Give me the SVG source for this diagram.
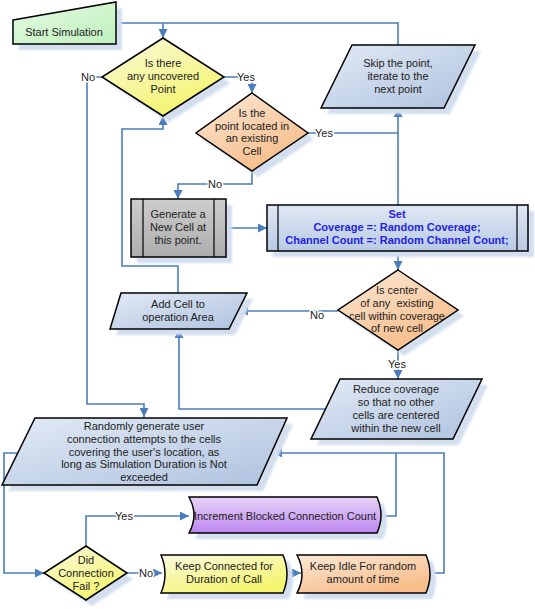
<svg xmlns="http://www.w3.org/2000/svg" xmlns:xlink="http://www.w3.org/1999/xlink" width="535" height="609" viewBox="0 0 535 609">
<style>
text{font-family:"Liberation Sans",Arial,sans-serif;font-size:11px;fill:#222;text-anchor:middle}
.shape{stroke:#000;stroke-width:1.5;stroke-linejoin:miter}
.shadow{fill:#d3deef;stroke:none}
.conn{fill:none;stroke:#4a7ebb;stroke-width:1.6}
.arr{marker-end:url(#ah)}
.lbl{stroke:#fff;stroke-width:3;paint-order:stroke;stroke-linejoin:round}
.set{fill:#1f1fe6;font-weight:bold}
.inner{stroke:#000;stroke-width:1.2;fill:none}
</style>
<defs>
<marker id="ah" viewBox="0 0 10 10" refX="10" refY="5" markerWidth="9" markerHeight="9" markerUnits="userSpaceOnUse" orient="auto">
<path d="M0,0 L10,5 L0,10 Z" fill="#4a7ebb"/>
</marker>
<filter id="blur" x="-10%" y="-10%" width="120%" height="120%"><feGaussianBlur stdDeviation="1"/></filter>
<linearGradient id="gBlue" x1="0" y1="0" x2="1" y2="1"><stop offset="0" stop-color="#e2eaf6"/><stop offset="1" stop-color="#aec2de"/></linearGradient>
<linearGradient id="gGreen" x1="0" y1="0" x2="1" y2="1"><stop offset="0" stop-color="#e4fbe2"/><stop offset="1" stop-color="#bff0bd"/></linearGradient>
<linearGradient id="gYellow" x1="0" y1="0" x2="0.6" y2="1"><stop offset="0" stop-color="#fafae0"/><stop offset="1" stop-color="#f4f46e"/></linearGradient>
<linearGradient id="gOrange" x1="0" y1="0" x2="0.6" y2="1"><stop offset="0" stop-color="#fce8d6"/><stop offset="1" stop-color="#f7bd8a"/></linearGradient>
<linearGradient id="gPurple" x1="0" y1="0" x2="0" y2="1"><stop offset="0" stop-color="#e8d4f8"/><stop offset="1" stop-color="#bd86f0"/></linearGradient>
<linearGradient id="gGray" x1="0" y1="0" x2="0" y2="1"><stop offset="0" stop-color="#cdcdcd"/><stop offset="1" stop-color="#adadad"/></linearGradient>
<linearGradient id="gSet" x1="0" y1="0" x2="0" y2="1"><stop offset="0" stop-color="#e0e8f4"/><stop offset="1" stop-color="#b8cae4"/></linearGradient>
</defs>

<g id="connectors">
<path class="conn" d="M116,23 H398 V45"/>
<path class="conn arr" d="M163,23 V38"/>
<path class="conn arr" d="M102,77 H87 V404 H144 V417"/>
<path class="conn arr" d="M224,77 H252 V93"/>
<path class="conn" d="M308,133 H398"/>
<path class="conn arr" d="M398,205 V108"/>
<path class="conn arr" d="M252,171 V184 H178 V199"/>
<path class="conn arr" d="M226,228 H267"/>
<path class="conn arr" d="M398,251 V270"/>
<path class="conn arr" d="M338,311 H239"/>
<path class="conn arr" d="M178,293 V266 H122 V129 H163 V116"/>
<path class="conn arr" d="M398,350 V379"/>
<path class="conn arr" d="M325,409 H179 V329"/>
<path class="conn" d="M382,516 H396 V453"/>
<path class="conn arr" d="M429,573 H444 V453 H273"/>
<path class="conn arr" d="M18,453 H4 V573 H44"/>
<path class="conn arr" d="M86,546 V516 H189"/>
<path class="conn arr" d="M127,573 H162"/>
<path class="conn arr" d="M287,573 H301"/>
<text class="lbl" x="88" y="81">No</text>
<text class="lbl" x="246" y="81">Yes</text>
<text class="lbl" x="324" y="137">Yes</text>
<text class="lbl" x="215" y="188">No</text>
<text class="lbl" x="317" y="319">No</text>
<text class="lbl" x="397" y="368">Yes</text>
<text class="lbl" x="124" y="520">Yes</text>
<text class="lbl" x="146" y="577">No</text>
</g>

<g id="start">
<polygon class="shadow" filter="url(#blur)" transform="translate(6,6)" points="13,20 116,2 116,44 13,44"/>
<polygon class="shape" fill="url(#gGreen)" points="13,20 116,2 116,44 13,44"/>
<text x="64" y="36">Start Simulation</text>
</g>

<g id="d1">
<polygon class="shadow" filter="url(#blur)" transform="translate(6,6)" points="163,38 224,77 163,116 102,77"/>
<polygon class="shape" fill="url(#gYellow)" points="163,38 224,77 163,116 102,77"/>
<text x="163" y="67">Is there</text>
<text x="163" y="80">any uncovered</text>
<text x="163" y="93">Point</text>
</g>

<g id="d2">
<polygon class="shadow" filter="url(#blur)" transform="translate(6,6)" points="252,93 308,133 252,171 196,133"/>
<polygon class="shape" fill="url(#gOrange)" points="252,93 308,133 252,171 196,133"/>
<text x="252" y="117">Is the</text>
<text x="252" y="130">point located in</text>
<text x="252" y="142">an existing</text>
<text x="252" y="155">Cell</text>
</g>

<g id="skip">
<polygon class="shadow" filter="url(#blur)" transform="translate(6,6)" points="352,45 475,45 444,108 321,108"/>
<polygon class="shape" fill="url(#gBlue)" points="352,45 475,45 444,108 321,108"/>
<text x="398" y="67">Skip the point,</text>
<text x="398" y="80">iterate to the</text>
<text x="398" y="93">next point</text>
</g>

<g id="generate">
<rect class="shadow" filter="url(#blur)" x="137" y="205" width="95" height="58"/>
<rect class="shape" fill="url(#gGray)" x="131" y="199" width="95" height="58"/>
<line class="inner" x1="143" y1="199" x2="143" y2="257"/>
<line class="inner" x1="214" y1="199" x2="214" y2="257"/>
<text x="178" y="218">Generate a</text>
<text x="178" y="231">New Cell at</text>
<text x="178" y="244">this point.</text>
</g>

<g id="set">
<rect class="shadow" filter="url(#blur)" x="273" y="211" width="261" height="46"/>
<rect class="shape" fill="url(#gSet)" x="267" y="205" width="261" height="46"/>
<line class="inner" x1="278" y1="205" x2="278" y2="251"/>
<line class="inner" x1="517" y1="205" x2="517" y2="251"/>
<text class="set" x="397" y="218">Set</text>
<text class="set" x="397" y="231">Coverage =: Random Coverage;</text>
<text class="set" x="397" y="244">Channel Count =: Random Channel Count;</text>
</g>

<g id="d3">
<polygon class="shadow" filter="url(#blur)" transform="translate(6,6)" points="398,270 458,310 398,350 338,310"/>
<polygon class="shape" fill="url(#gOrange)" points="398,270 458,310 398,350 338,310"/>
<text x="397" y="294">Is center</text>
<text x="397" y="307" xml:space="preserve">of any  existing</text>
<text x="397" y="320">cell within coverage</text>
<text x="397" y="332">of new cell</text>
</g>

<g id="addcell">
<polygon class="shadow" filter="url(#blur)" transform="translate(6,6)" points="121,293 247,293 229,329 110,329"/>
<polygon class="shape" fill="url(#gBlue)" points="121,293 247,293 229,329 110,329"/>
<text x="178" y="308">Add Cell to</text>
<text x="178" y="321">operation Area</text>
</g>

<g id="reduce">
<polygon class="shadow" filter="url(#blur)" transform="translate(6,6)" points="340,379 482,379 453,439 311,439"/>
<polygon class="shape" fill="url(#gBlue)" points="340,379 482,379 453,439 311,439"/>
<text x="396" y="393">Reduce coverage</text>
<text x="396" y="406">so that no other</text>
<text x="396" y="419">cells are centered</text>
<text x="396" y="432">within the new cell</text>
</g>

<g id="randomly">
<polygon class="shadow" filter="url(#blur)" transform="translate(6,6)" points="35,418 287,418 257,485 2,485"/>
<polygon class="shape" fill="url(#gBlue)" points="35,418 287,418 257,485 2,485"/>
<text x="144" y="430">Randomly generate user</text>
<text x="144" y="443">connection attempts to the cells</text>
<text x="144" y="456">covering the user's location, as</text>
<text x="144" y="468">long as Simulation Duration is Not</text>
<text x="144" y="481">exceeded</text>
</g>

<g id="d4">
<polygon class="shadow" filter="url(#blur)" transform="translate(6,6)" points="86,546 127,573 86,600 44,573"/>
<polygon class="shape" fill="url(#gYellow)" points="86,546 127,573 86,600 44,573"/>
<text x="86" y="564">Did</text>
<text x="86" y="577">Connection</text>
<text x="86" y="590">Fail ?</text>
</g>

<g id="increment">
<path class="shadow" filter="url(#blur)" transform="translate(6,6)" d="M189,497 L377,497 Q385,515 377,533 L189,533 Q199,515 189,497 Z"/>
<path class="shape" fill="url(#gPurple)" d="M189,497 L377,497 Q385,515 377,533 L189,533 Q199,515 189,497 Z"/>
<text x="285" y="520">Increment Blocked Connection Count</text>
</g>

<g id="keepconn">
<path class="shadow" filter="url(#blur)" transform="translate(6,6)" d="M161,555 L283,555 Q291,574 283,593 L161,593 Q169,574 161,555 Z"/>
<path class="shape" fill="url(#gYellow)" d="M161,555 L283,555 Q291,574 283,593 L161,593 Q169,574 161,555 Z"/>
<text x="224" y="570">Keep Connected for</text>
<text x="224" y="583">Duration of Call</text>
</g>

<g id="keepidle">
<path class="shadow" filter="url(#blur)" transform="translate(6,6)" d="M297,555 L426,555 Q434,574 426,593 L297,593 Q307,574 297,555 Z"/>
<path class="shape" fill="url(#gOrange)" d="M297,555 L426,555 Q434,574 426,593 L297,593 Q307,574 297,555 Z"/>
<text x="363" y="570">Keep Idle For random</text>
<text x="363" y="583">amount of time</text>
</g>
</svg>
